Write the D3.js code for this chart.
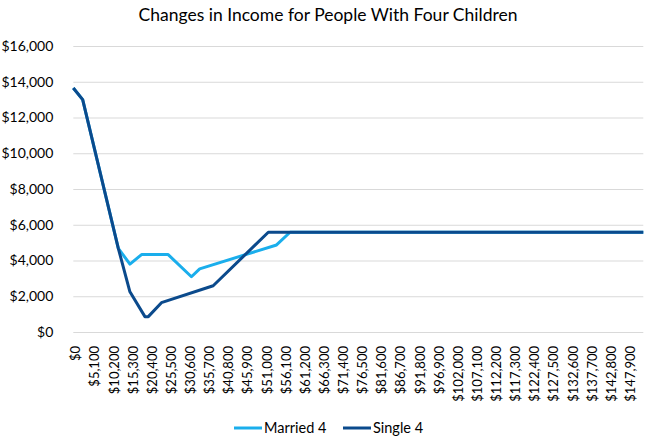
<!DOCTYPE html>
<html>
<head>
    <meta charset="utf-8">
    <script src="https://d3js.org/d3.v7.min.js"></script>
    <style>
        body { margin: 0; background: #fff; }
        svg text { font-family: Lato, "Open Sans", sans-serif; fill: #000; }
        .grid line { stroke: #d9d9d9; stroke-width: 1; }
    </style>
</head>
<body>
<script>
    // income points (x) and the change in income for each household
    var marriedIncome = [0, 2500, 12000, 15100, 18200, 25300, 31500, 33700, 54200, 57800, 152000];
    var marriedValues = [13650, 13000, 4680, 3800, 4330, 4330, 3090, 3530, 4870, 5580, 5580];

    var singleIncome = [0, 2500, 12000, 15100, 19100, 20000, 23500, 37300, 52000, 152000];
    var singleValues = [13650, 13000, 4680, 2250, 860, 860, 1640, 2590, 5580, 5580];

    var yTicks = [0, 2000, 4000, 6000, 8000, 10000, 12000, 14000, 16000];
    var xTicks = d3.range(0, 148000, 5100); // $0, $5,100 ... $147,900

    var width = 654, height = 442;
    var plotLeft = 73.3, plotRight = 643.3, plotTop = 46, plotBottom = 332;

    var svg = d3.select("body").append("svg")
        .attr("width", width)
        .attr("height", height);

    var x = d3.scaleLinear().domain([0, 152000]).range([plotLeft, plotRight]);
    var y = d3.scaleLinear().domain([0, 16000]).range([plotBottom, plotTop]);

    var money = function(d) { return "$" + d3.format(",")(d); };

    // title
    svg.append("text")
        .attr("x", 328)
        .attr("y", 21)
        .attr("text-anchor", "middle")
        .style("font-size", "17.5px")
        .text("Changes in Income for People With Four Children");

    // horizontal gridlines + y labels
    var yAxis = svg.append("g")
        .attr("class", "grid")
        .attr("transform", "translate(" + plotLeft + ",0)")
        .call(d3.axisLeft(y).tickValues(yTicks).tickSize(-(plotRight - plotLeft)).tickFormat(money).tickPadding(20));
    yAxis.select(".domain").remove();
    yAxis.selectAll("text").style("font-size", "14px");

    // x labels, rotated
    var xAxis = svg.append("g")
        .attr("transform", "translate(0," + plotBottom + ")")
        .call(d3.axisBottom(x).tickValues(xTicks).tickSize(0).tickFormat(money));
    xAxis.select(".domain").remove();
    xAxis.selectAll("text")
        .style("font-size", "13px")
        .attr("text-anchor", "end")
        .attr("transform", "rotate(-90)")
        .attr("x", -14)
        .attr("y", 2)
        .attr("dy", "0.35em");

    var line = d3.line()
        .x(function(d) { return x(d[0]); })
        .y(function(d) { return y(d[1]); });

    var series = [
        { name: "Married 4", color: "#1aaeec", pts: d3.zip(marriedIncome, marriedValues) },
        { name: "Single 4", color: "#0b4a8c", pts: d3.zip(singleIncome, singleValues) }
    ];

    svg.selectAll("path.series")
        .data(series)
        .enter().append("path")
        .attr("class", "series")
        .attr("fill", "none")
        .attr("stroke", function(d) { return d.color; })
        .attr("stroke-width", 3)
        .attr("stroke-linejoin", "round")
        .attr("d", function(d) { return line(d.pts); });

    // legend
    var legendX = [234, 343];
    var legend = svg.selectAll("g.legend")
        .data(series)
        .enter().append("g")
        .attr("class", "legend")
        .attr("transform", function(d, i) { return "translate(" + legendX[i] + ",428)"; });
    legend.append("line")
        .attr("x1", 0).attr("x2", 28)
        .attr("stroke", function(d) { return d.color; })
        .attr("stroke-width", 3);
    legend.append("text")
        .attr("x", 30)
        .attr("dy", "0.35em")
        .style("font-size", "14.5px")
        .text(function(d) { return d.name; });
</script>
</body>
</html>
